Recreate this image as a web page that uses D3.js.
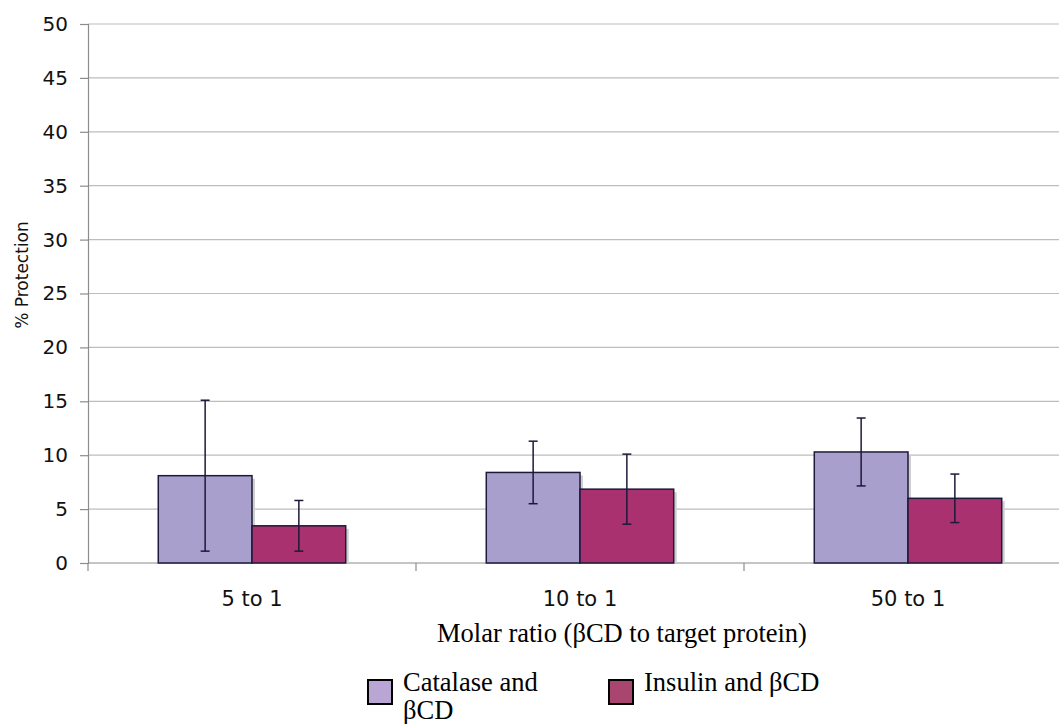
<!DOCTYPE html>
<html>
<head>
<meta charset="utf-8">
<script src="https://cdn.jsdelivr.net/npm/d3@7"></script>
<style>
  body { margin: 0; background: #fff; }
  svg { display: block; }
</style>
</head>
<body>
<div id="chart"></div>
<script>
// chart values
const categories = ["5 to 1", "10 to 1", "50 to 1"];
const seriesNames = ["Catalase and βCD", "Insulin and βCD"];
const catalase = [8.1, 8.4, 10.3];
const catalaseErr = [7.0, 2.9, 3.15];
const insulin = [3.45, 6.85, 6.0];
const insulinErr = [2.35, 3.25, 2.25];
const yTicks = [0, 5, 10, 15, 20, 25, 30, 35, 40, 45, 50];

const width = 1059;
const height = 724;
const margin = { left: 88, top: 24, right: -13, bottom: 161 };
const plotRight = width - margin.right;
const plotBottom = height - margin.bottom;

const colors = ["#a99fcd", "#aa3170"];
const legendColors = ["#b9a6d4", "#a8466f"];
const sansFont = "DejaVu Sans, Verdana, sans-serif";
const serifFont = "Liberation Serif, Times New Roman, serif";

const svg = d3.select("#chart")
  .append("svg")
  .attr("width", width)
  .attr("height", height)
  .attr("viewBox", `0 0 ${width} ${height}`);

const x = d3.scaleBand()
  .domain(categories)
  .range([margin.left, plotRight]);

const xInner = d3.scaleBand()
  .domain(seriesNames)
  .range([0, x.bandwidth()])
  .paddingOuter(0.75)
  .paddingInner(0);

const y = d3.scaleLinear()
  .domain([0, 50])
  .range([plotBottom, margin.top]);

// gridlines
svg.append("g")
  .selectAll("line")
  .data(yTicks.filter((d) => d > 0))
  .join("line")
  .attr("x1", margin.left)
  .attr("x2", plotRight)
  .attr("y1", (d) => y(d))
  .attr("y2", (d) => y(d))
  .attr("stroke", "#bdbdbd")
  .attr("stroke-width", 1.2);

// y axis
const yAxis = svg.append("g")
  .attr("transform", `translate(${margin.left},0)`)
  .call(d3.axisLeft(y).tickValues(yTicks).tickSize(8).tickPadding(12));
yAxis.select(".domain").attr("stroke", "#8c8c8c").attr("stroke-width", 1.2);
yAxis.selectAll(".tick line").attr("stroke", "#8c8c8c").attr("stroke-width", 1.2);
yAxis.selectAll("text")
  .attr("font-family", sansFont)
  .attr("font-size", 20)
  .attr("fill", "#111");

// x axis baseline + group dividers
svg.append("line")
  .attr("x1", margin.left)
  .attr("x2", plotRight)
  .attr("y1", y(0))
  .attr("y2", y(0))
  .attr("stroke", "#8c8c8c")
  .attr("stroke-width", 1.2);

svg.append("g")
  .selectAll("line")
  .data(categories)
  .join("line")
  .attr("x1", (d) => x(d))
  .attr("x2", (d) => x(d))
  .attr("y1", y(0))
  .attr("y2", y(0) + 8)
  .attr("stroke", "#8c8c8c")
  .attr("stroke-width", 1.2);

svg.append("g")
  .selectAll("text")
  .data(categories)
  .join("text")
  .attr("x", (d) => x(d) + x.bandwidth() / 2)
  .attr("y", 606)
  .attr("text-anchor", "middle")
  .attr("font-family", sansFont)
  .attr("font-size", 21)
  .attr("fill", "#111")
  .text((d) => d);

// bars
const rows = categories.map((c, i) => [
  { cat: c, s: seriesNames[0], v: catalase[i], e: catalaseErr[i], k: 0 },
  { cat: c, s: seriesNames[1], v: insulin[i], e: insulinErr[i], k: 1 },
]).flat();

const gBars = svg.append("g");

// soft shadow behind bars
gBars.selectAll("rect.shadow")
  .data(rows)
  .join("rect")
  .attr("class", "shadow")
  .attr("x", (d) => x(d.cat) + xInner(d.s) + 3)
  .attr("y", (d) => y(d.v) + 3)
  .attr("width", xInner.bandwidth())
  .attr("height", (d) => y(0) - y(d.v) - 3)
  .attr("fill", "#cfcfcf");

gBars.selectAll("rect.bar")
  .data(rows)
  .join("rect")
  .attr("class", "bar")
  .attr("x", (d) => x(d.cat) + xInner(d.s))
  .attr("y", (d) => y(d.v))
  .attr("width", xInner.bandwidth())
  .attr("height", (d) => y(0) - y(d.v))
  .attr("fill", (d) => colors[d.k])
  .attr("stroke", "#1c1a3a")
  .attr("stroke-width", 1.5);

// error bars
const gErr = svg.append("g").attr("stroke", "#1c1a3a").attr("stroke-width", 1.5);
rows.forEach((d) => {
  const cx = x(d.cat) + xInner(d.s) + xInner.bandwidth() / 2;
  const top = y(d.v + d.e);
  const bot = y(d.v - d.e);
  gErr.append("line").attr("x1", cx).attr("x2", cx).attr("y1", top).attr("y2", bot);
  gErr.append("line").attr("x1", cx - 4.5).attr("x2", cx + 4.5).attr("y1", top).attr("y2", top);
  gErr.append("line").attr("x1", cx - 4.5).attr("x2", cx + 4.5).attr("y1", bot).attr("y2", bot);
});

// axis titles
svg.append("text")
  .attr("transform", `translate(28,275) rotate(-90)`)
  .attr("text-anchor", "middle")
  .attr("font-family", sansFont)
  .attr("font-size", 17)
  .attr("fill", "#111")
  .text("% Protection");

svg.append("text")
  .attr("x", 622)
  .attr("y", 642)
  .attr("text-anchor", "middle")
  .attr("font-family", serifFont)
  .attr("font-size", 26.5)
  .attr("fill", "#000")
  .text("Molar ratio (βCD to target protein)");

// legend
const legend = [
  { x: 368, lines: ["Catalase and", "βCD"] },
  { x: 609, lines: ["Insulin and βCD"] },
];
legend.forEach((item, i) => {
  svg.append("rect")
    .attr("x", item.x)
    .attr("y", 680)
    .attr("width", 24)
    .attr("height", 24)
    .attr("fill", legendColors[i])
    .attr("stroke", "#000")
    .attr("stroke-width", 2);
  const t = svg.append("text")
    .attr("font-family", serifFont)
    .attr("font-size", 26.5)
    .attr("fill", "#000");
  item.lines.forEach((ln, j) => {
    t.append("tspan").attr("x", item.x + 35).attr("y", 691 + j * 28).text(ln);
  });
});
</script>
</body>
</html>
